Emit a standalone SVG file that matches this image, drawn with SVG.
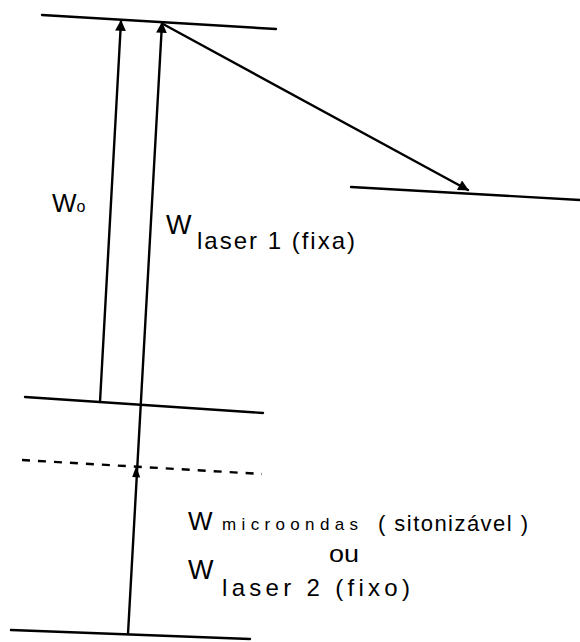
<svg xmlns="http://www.w3.org/2000/svg" width="580" height="642" viewBox="0 0 580 642">
<style>
.ln{stroke:#000;stroke-width:2.4;fill:none;stroke-linecap:round}
.ds{stroke:#000;stroke-width:2.4;fill:none;stroke-dasharray:8 8}
.t{font-family:"Liberation Sans",Arial,sans-serif;fill:#000}
</style>
<defs>
<marker id="ah" viewBox="0 0 10 10" refX="9" refY="5" markerWidth="5" markerHeight="4.5" orient="auto" markerUnits="strokeWidth">
<path d="M0,0 L10,5 L0,10 z" fill="#000"/>
</marker>
</defs>
<rect width="580" height="642" fill="#fff"/>
<g id="levels">
<line class="ln" x1="42" y1="15" x2="276" y2="29"/>
<line class="ln" x1="351" y1="187" x2="580" y2="200"/>
<line class="ln" x1="25" y1="397" x2="263" y2="413"/>
<line class="ds" x1="22" y1="460" x2="262" y2="474"/>
<line class="ln" x1="11" y1="630" x2="250" y2="639"/>
</g>
<g id="connectors">
<line class="ln" x1="100" y1="402" x2="121" y2="21" marker-end="url(#ah)"/>
<line class="ln" x1="128" y1="634" x2="162" y2="23" marker-end="url(#ah)"/>
<path d="M136.2,466 L132.2,477 L140.2,477.4 z" fill="#000"/>
<line class="ln" x1="163" y1="24" x2="468" y2="190" marker-end="url(#ah)"/>
</g>
<g id="labels">
<text class="t" x="52" y="212" font-size="26">W<tspan font-size="16">o</tspan></text>
<text class="t" x="166" y="234" font-size="27">W</text>
<text class="t" x="197" y="249" font-size="24" textLength="158" lengthAdjust="spacing">laser 1 (fixa)</text>
<text class="t" x="188" y="530" font-size="26">W</text>
<text class="t" x="222" y="530" font-size="17" textLength="136" lengthAdjust="spacing">microondas</text>
<text class="t" x="378" y="531" font-size="22" textLength="150" lengthAdjust="spacing">( sitonizável )</text>
<text class="t" x="329" y="562" font-size="24" textLength="30" lengthAdjust="spacingAndGlyphs">ou</text>
<text class="t" x="188" y="579" font-size="27">W</text>
<text class="t" x="222" y="596" font-size="24" textLength="188" lengthAdjust="spacing">laser 2 (fixo)</text>
</g>
</svg>
